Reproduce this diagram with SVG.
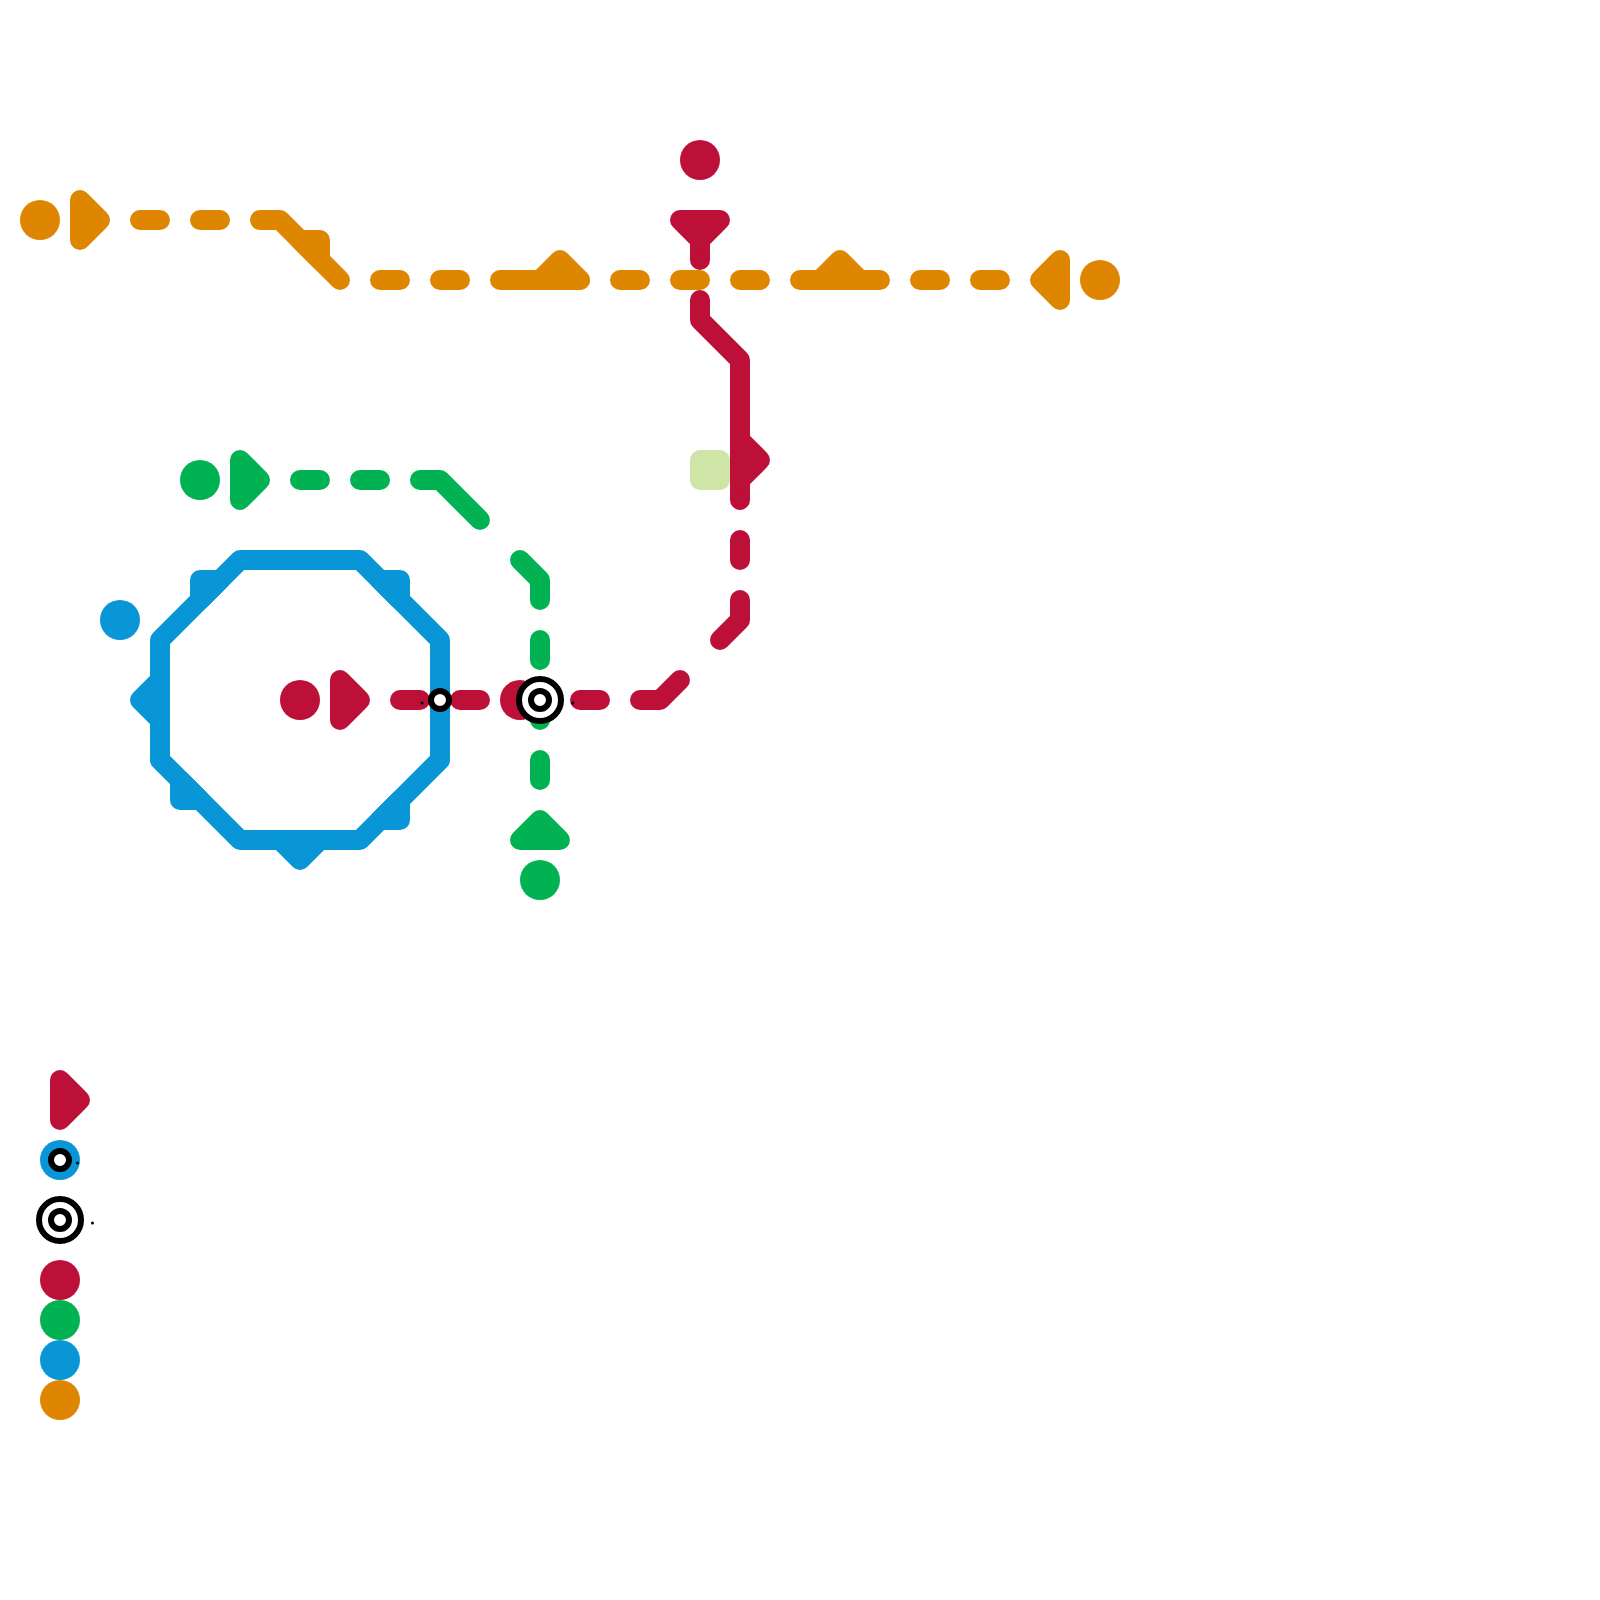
<svg xmlns="http://www.w3.org/2000/svg" width="1600" height="1600" viewBox="0 0 1600 1600">
<style>
.l{fill:none;stroke-width:20;stroke-linecap:round;stroke-linejoin:round}
.t{stroke-width:20;stroke-linejoin:round}
.o{stroke:#df8600}.r{stroke:#bd1038}.g{stroke:#00b251}.b{stroke:#0896d7}
.to{fill:#df8600;stroke:#df8600}.tr{fill:#bd1038;stroke:#bd1038}.tg{fill:#00b251;stroke:#00b251}.tb{fill:#0896d7;stroke:#0896d7}
.co{fill:#df8600}.cr{fill:#bd1038}.cg{fill:#00b251}.cb{fill:#0896d7}
.ring{fill:#fff;stroke:#000;stroke-width:6}
.dot{fill:#000}
</style>
<rect width="1600" height="1600" fill="#fff"/>
<g id="square-1"><rect x="690" y="450" width="40" height="40" rx="10" fill="#cfe4a7"/></g>
<g id="connectors">
<path class="l b" d="M240 560H360L440 640V760L360 840H240L160 760V640Z"/>
<path class="l o" d="M140 220H160M200 220H220M260 220H280L340 280M380 280H400M440 280H460M500 280H580M620 280H640M680 280H700M740 280H760M800 280H880M920 280H940M980 280H1000"/>
<path class="l r" d="M700 220V260M700 300V320L740 360V500M740 540V560M740 600V620L720 640M680 680L660 700H640M600 700H580M480 700H460M420 700H400"/>
<path class="l g" d="M300 480H320M360 480H380M420 480H440L480 520M520 560L540 580V600M540 640V660M540 700V720M540 760V780"/>
</g>
<g id="orange-start"><circle class="co" cx="40" cy="220" r="20"/></g>
<g id="orange-arrow-1"><polygon class="t to" points="80,200 100,220 80,240"/></g>
<g id="orange-mark-1"><polygon class="t to" points="300,240 320,240 320,260"/></g>
<g id="orange-mark-2"><polygon class="t to" points="540,280 560,260 580,280"/></g>
<g id="orange-mark-3"><polygon class="t to" points="820,280 840,260 860,280"/></g>
<g id="orange-arrow-2"><polygon class="t to" points="1060,260 1040,280 1060,300"/></g>
<g id="orange-end"><circle class="co" cx="1100" cy="280" r="20"/></g>
<g id="red-start"><circle class="cr" cx="700" cy="160" r="20"/></g>
<g id="red-arrow-1"><polygon class="t tr" points="680,220 720,220 700,240"/></g>
<g id="red-arrow-2"><polygon class="t tr" points="740,440 760,460 740,480"/></g>
<g id="red-arrow-3"><polygon class="t tr" points="340,680 360,700 340,720"/></g>
<g id="red-end"><circle class="cr" cx="300" cy="700" r="20"/></g>
<g id="red-stop"><circle class="cr" cx="520" cy="700" r="20"/></g>
<g id="green-start"><circle class="cg" cx="200" cy="480" r="20"/></g>
<g id="green-arrow-1"><polygon class="t tg" points="240,460 260,480 240,500"/></g>
<g id="green-arrow-2"><polygon class="t tg" points="520,840 540,820 560,840"/></g>
<g id="green-end"><circle class="cg" cx="540" cy="880" r="20"/></g>
<g id="blue-start"><circle class="cb" cx="120" cy="620" r="20"/></g>
<g id="blue-mark-1"><polygon class="t tb" points="200,580 220,580 200,600"/></g>
<g id="blue-mark-2"><polygon class="t tb" points="380,580 400,580 400,600"/></g>
<g id="blue-mark-3"><polygon class="t tb" points="160,680 140,700 160,720"/></g>
<g id="blue-mark-4"><polygon class="t tb" points="180,780 180,800 200,800"/></g>
<g id="blue-mark-5"><polygon class="t tb" points="400,800 400,820 380,820"/></g>
<g id="blue-mark-6"><polygon class="t tb" points="280,840 300,860 320,840"/></g>
<g id="interchange-small"><circle class="ring" cx="440" cy="700" r="9"/><circle class="dot" cx="422" cy="703" r="1.5"/></g>
<g id="interchange-large"><circle class="ring" cx="540" cy="700" r="21"/><circle class="ring" cx="540" cy="700" r="9"/><circle class="dot" cx="572.700" cy="703" r="1.500"/></g>
<g id="legend-arrow"><polygon class="t tr" points="60,1080 80,1100 60,1120"/></g>
<g id="legend-small"><circle class="cb" cx="60" cy="1160" r="20"/><circle class="ring" cx="60" cy="1160" r="9"/><circle class="dot" cx="77.500" cy="1163" r="1.500"/></g>
<g id="legend-large"><circle class="ring" cx="60" cy="1220" r="21"/><circle class="ring" cx="60" cy="1220" r="9"/><circle class="dot" cx="92.500" cy="1223" r="1.500"/></g>
<g id="legend-red"><circle class="cr" cx="60" cy="1280" r="20"/></g>
<g id="legend-green"><circle class="cg" cx="60" cy="1320" r="20"/></g>
<g id="legend-blue"><circle class="cb" cx="60" cy="1360" r="20"/></g>
<g id="legend-orange"><circle class="co" cx="60" cy="1400" r="20"/></g>
</svg>
